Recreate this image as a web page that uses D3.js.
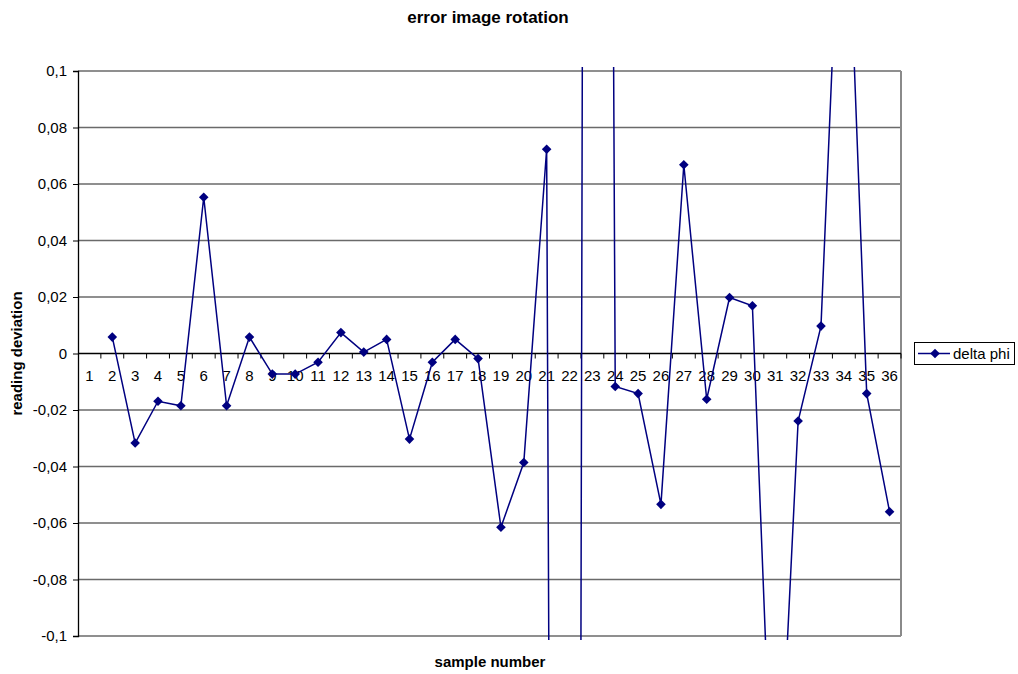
<!DOCTYPE html>
<html>
<head>
<meta charset="utf-8">
<script src="https://cdn.jsdelivr.net/npm/d3@7"></script>
<style>
  html, body { margin: 0; padding: 0; background: #fff; }
  svg { display: block; }
  text { font-family: "Liberation Sans", Arial, sans-serif; fill: #000; }
</style>
</head>
<body>
<svg id="chart" width="1018" height="674"></svg>
<script>
// ---- data ----
const categories = d3.range(1, 37).map(String);
const deltaPhi = [null, 0.0058, -0.0317, -0.0169, -0.0185, 0.0553, -0.0185, 0.0058, -0.0073, -0.0073,
  -0.0031, 0.0074, 0.0005, 0.0050, -0.0303, -0.0031, 0.0050, -0.0018, -0.0615, -0.0386,
  0.0723, -1.8, 1.6, -0.0117, -0.0142, -0.0534, 0.0668, -0.0162, 0.0198, 0.0169,
  -0.19, -0.0239, 0.0097, 0.20, -0.0142, -0.056];
const yTicks = [0.1, 0.08, 0.06, 0.04, 0.02, 0, -0.02, -0.04, -0.06, -0.08, -0.1];
const seriesName = "delta phi";
const chartTitle = "error image rotation";
const xTitle = "sample number";
const yTitle = "reading deviation";

// ---- layout ----
const svg = d3.select("#chart");
const pL = 78, pR = 901, pT = 71, pB = 636;
const x = d3.scaleBand().domain(categories).range([pL, pR]).padding(0);
const y = d3.scaleLinear().domain([-0.1, 0.1]).range([pB, pT]);
const cx = c => x(c) + x.bandwidth() / 2;
const fmt = v => (v === 0 ? "0" : String(+v.toFixed(2)).replace(".", ","));

// gridlines
svg.append("g").selectAll("line").data(yTicks.filter(v => v !== 0)).join("line")
  .attr("x1", pL).attr("x2", pR)
  .attr("y1", d => y(d)).attr("y2", d => y(d))
  .attr("stroke", "#6a6a6a").attr("stroke-width", 1.3);

// right border
svg.append("line").attr("x1", pR).attr("x2", pR).attr("y1", pT).attr("y2", pB)
  .attr("stroke", "#8a8a8a").attr("stroke-width", 2);

// y axis
const yAxis = d3.axisLeft(y).tickValues(yTicks).tickSize(5).tickPadding(6).tickFormat(fmt);
const gy = svg.append("g").attr("transform", `translate(${pL},0)`).call(yAxis);
gy.select(".domain").attr("stroke", "#000").attr("stroke-width", 1.3);
gy.selectAll(".tick line").attr("stroke", "#000");
gy.selectAll(".tick text").style("font-size", "15px").attr("fill", "#000")
  .style("font-family", "'Liberation Sans', Arial, sans-serif");

// x axis at zero
const y0 = y(0);
svg.append("line").attr("x1", pL).attr("x2", pR).attr("y1", y0).attr("y2", y0)
  .attr("stroke", "#000").attr("stroke-width", 1.3);
svg.append("g").selectAll("line").data(categories.slice(1).concat(["__end"])).join("line")
  .attr("x1", d => d === "__end" ? pR : x(d)).attr("x2", d => d === "__end" ? pR : x(d))
  .attr("y1", y0).attr("y2", y0 + 5).attr("stroke", "#000").attr("stroke-width", 1);
svg.append("g").selectAll("text").data(categories).join("text")
  .attr("x", d => cx(d)).attr("y", y0 + 27).attr("text-anchor", "middle")
  .style("font-size", "15px").text(d => d);

// clip
svg.append("clipPath").attr("id", "clip").append("rect")
  .attr("x", pL).attr("y", pT - 4).attr("width", pR - pL).attr("height", pB - pT + 8);

const data = categories.map((c, i) => ({ c, v: deltaPhi[i] }));
const line = d3.line().defined(d => d.v != null).x(d => cx(d.c)).y(d => y(d.v));
const color = "#000080";
svg.append("path").datum(data).attr("clip-path", "url(#clip)")
  .attr("d", line).attr("fill", "none").attr("stroke", color).attr("stroke-width", 1.5);

const diamond = "M0,-4.8L4.8,0L0,4.8L-4.8,0Z";
svg.append("g").attr("clip-path", "url(#clip)").selectAll("path")
  .data(data.filter(d => d.v != null && d.v <= 0.1 && d.v >= -0.1)).join("path")
  .attr("transform", d => `translate(${cx(d.c)},${y(d.v)})`)
  .attr("d", diamond).attr("fill", color);

// titles
svg.append("text").attr("x", 488).attr("y", 23).attr("text-anchor", "middle")
  .style("font-size", "17px").style("font-weight", "bold").text(chartTitle);
svg.append("text").attr("x", 490).attr("y", 667).attr("text-anchor", "middle")
  .style("font-size", "15px").style("font-weight", "bold").text(xTitle);
svg.append("text").attr("transform", `translate(22,${(pT + pB) / 2}) rotate(-90)`)
  .attr("text-anchor", "middle")
  .style("font-size", "15px").style("font-weight", "bold").text(yTitle);

// legend
const lg = svg.append("g");
lg.append("rect").attr("x", 914.5).attr("y", 342.5).attr("width", 100).attr("height", 22)
  .attr("fill", "#fff").attr("stroke", "#000").attr("stroke-width", 1);
lg.append("line").attr("x1", 918).attr("x2", 950).attr("y1", 353.5).attr("y2", 353.5)
  .attr("stroke", color).attr("stroke-width", 1.5);
lg.append("path").attr("transform", "translate(935,353.5)").attr("d", diamond).attr("fill", color);
lg.append("text").attr("x", 953).attr("y", 359).style("font-size", "15px").text(seriesName);
</script>
</body>
</html>
